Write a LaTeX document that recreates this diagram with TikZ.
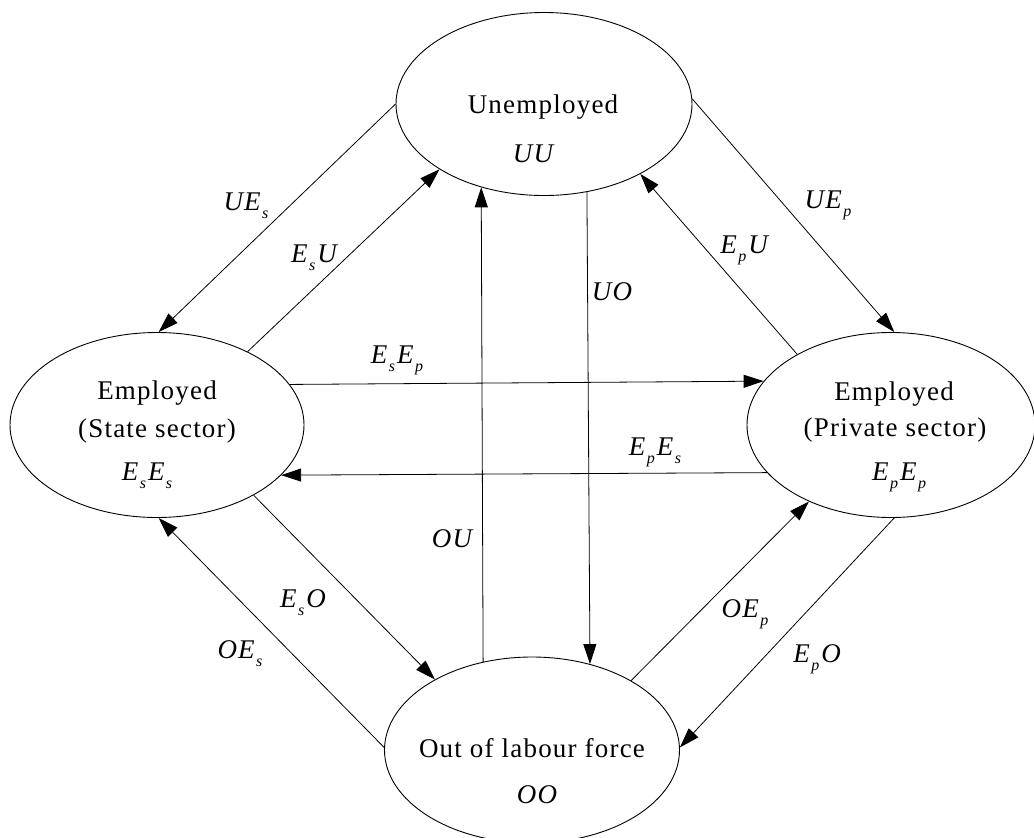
\documentclass[tikz,border=0pt]{standalone}
\usepackage{fontspec}
\setmainfont{Liberation Serif}[LetterSpace=4.5]
\usetikzlibrary{arrows.meta, positioning, shapes.geometric}

% subscript as the picture sets it: small and well below the line
\newcommand{\low}[1]{\kern1.5pt\raisebox{-8pt}{\fontsize{16}{16}\selectfont #1}\kern2pt}

\tikzset{
  state/.style={draw, ellipse, line width=0.9pt, inner sep=0pt},
  txt/.style={font=\fontsize{27}{32}\selectfont, inner sep=0pt, anchor=base},
  lbl/.style={font=\fontsize{27}{32}\selectfont\itshape, inner sep=0pt, anchor=base},
  flow/.style={-{Triangle[length=20pt,width=13pt]}, line width=0.8pt}
}

\begin{document}
\begin{tikzpicture}[x=1pt, y=-1pt]
  \useasboundingbox (0,0) rectangle (1034,838);

  % States
  \node[state, minimum width=296pt, minimum height=183pt] (U) at (544,104) {};
  \node[state, minimum width=294pt, minimum height=185pt] (S) at (157,425) {};
  \node[state, minimum width=288pt, minimum height=185pt] (P) at (891,425) {};
  \node[state, minimum width=295pt, minimum height=186pt] (O) at (532,750) {};

  % Texts in the states
  \node[txt] (Uname) at (543,113) {Unemployed};
  \node[lbl] (Uval) at (533,162) {UU};
  \node[txt] (Sname) at (157,399) {Employed};
  \node[txt] (Ssec) at (157,437) {(State sector)};
  \node[lbl] (Sval) at (148,480) {E\low{s}E\low{s}};
  \node[txt] (Pname) at (894,400) {Employed};
  \node[txt] (Psec) at (895,436) {(Private sector)};
  \node[lbl] (Pval) at (900,480) {E\low{p}E\low{p}};
  \node[txt] (Oname) at (532,757) {Out of labour force};
  \node[lbl] (Oval) at (537,803) {OO};

  % Flows between the states
  \draw[flow] (U.180) -- (S.89);
  \draw[flow] (S.39) -- (U.212);
  \draw[flow] (U.2) -- (P.88);
  \draw[flow] (P.143.7) -- (U.324.2);
  \draw[flow] (S.17.78) -- (P.161.87);
  \draw[flow] (P.201.86) -- (S.338.55);
  \draw[flow] (S.324.1) -- (O.144.6);
  \draw[flow] (O.179) -- (S.271);
  \draw[flow] (O.119.2) -- (U.233.8);
  \draw[flow] (U.296.7) -- (O.56.9);
  \draw[flow] (O.35.1) -- (P.223.2);
  \draw[flow] (P.272) -- (O.1);

  % Flow labels
  \node[lbl] (lUEs) at (247,210) {UE\low{s}};
  \node[lbl] (lEsU) at (314,262) {E\low{s}U};
  \node[lbl] (lUEp) at (829,208) {UE\low{p}};
  \node[lbl] (lEpU) at (744,253) {E\low{p}U};
  \node[lbl] (lUO) at (612,300) {UO};
  \node[lbl] (lEsEp) at (398,363) {E\low{s}E\low{p}};
  \node[lbl] (lEpEs) at (656,455) {E\low{p}E\low{s}};
  \node[lbl] (lEsO) at (303,607) {E\low{s}O};
  \node[lbl] (lOEs) at (241,658) {OE\low{s}};
  \node[lbl] (lOU) at (452,547) {OU};
  \node[lbl] (lOEp) at (746,617) {OE\low{p}};
  \node[lbl] (lEpO) at (817,662) {E\low{p}O};
\end{tikzpicture}
\end{document}
